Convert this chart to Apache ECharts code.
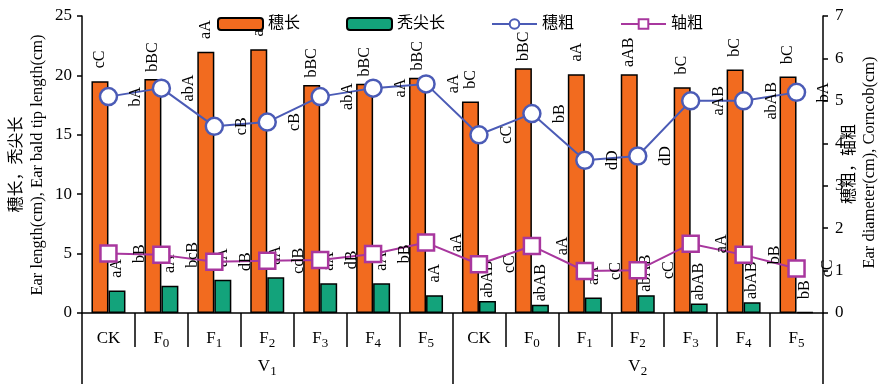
<!DOCTYPE html>
<html><head><meta charset="utf-8">
<script src="https://cdn.jsdelivr.net/npm/echarts@6/dist/echarts.min.js"></script>
<style>html,body{margin:0;padding:0;background:#fff}#c{width:886px;height:384px}</style>
</head><body><div id="c"></div>
<script>
var treatments = ['CK','F0','F1','F2','F3','F4','F5'];
var varieties = ['V1','V2'];
var earLength   = [19.5,19.7,22.0,22.2,19.2,19.3,19.8, 17.8,20.6,20.1,20.1,19.0,20.5,19.9];
var baldTip     = [1.9,2.3,2.8,3.0,2.5,2.5,1.5, 1.0,0.7,1.3,1.5,0.8,0.9,0.1];
var earDiameter = [5.1,5.3,4.4,4.5,5.1,5.3,5.4, 4.2,4.7,3.6,3.7,5.0,5.0,5.2];
var cobDiameter = [1.40,1.37,1.21,1.23,1.25,1.39,1.66, 1.15,1.58,0.99,1.01,1.63,1.37,1.05];
var earLengthSig = ['cC','bBC','aA','aA','bBC','bBC','bBC','bC','bBC','aA','aAB','bC','bC','bC'];
var baldTipSig   = ['aA','aA','aA','aA','aA','aA','aA','abAB','abAB','aA','abAB','abAB','abAB','bB'];
var earDiaSig    = ['bA','abA','cB','cB','abA','aA','aA','cC','bB','dD','dD','aAB','abAB','bA'];
var cobSig       = ['bB','bcB','dB','cdB','dB','bB','aA','cC','aA','cC','cC','aA','bB','cC'];
var seriesNames = ['穗长','秃尖长','穗粗','轴粗'];
var leftNameCn = '穗长，秃尖长', leftNameEn = 'Ear length(cm), Ear bald tip length(cm)';
var rightNameCn = '穗粗，轴粗', rightNameEn = 'Ear diameter(cm), Corncob(cm)';
var leftTicks = {min:0, max:25, interval:5};
var rightTicks = {min:0, max:7, interval:1};

var categories = [];
varieties.forEach(function(v){ treatments.forEach(function(t){ categories.push(v + '|' + t); }); });

var SERIF = '"Liberation Serif","Times New Roman",serif';
var CJK = '"Liberation Serif","Noto Sans CJK SC",serif';
function subFmt(s){
  var m = s.match(/^([A-Z]+)(\d)$/);
  return m ? '{a|' + m[1] + '}{s|' + m[2] + '}' : '{a|' + s + '}';
}
var richSub = {
  a:{fontFamily:SERIF,fontSize:17,color:'#000',lineHeight:22,verticalAlign:'bottom'},
  s:{fontFamily:SERIF,fontSize:13,color:'#000',lineHeight:22,verticalAlign:'bottom',padding:[0,0,-3,0]}
};
function sigLabel(arr, pos, dist){
  return {show:true, position:pos, distance:dist, rotate:90, align:'center', verticalAlign:'middle',
    fontFamily:SERIF, fontSize:16, color:'#000',
    formatter:function(p){ return arr[p.dataIndex]; }};
}
var chart = echarts.init(document.getElementById('c'), null, {renderer:'canvas'});
chart.setOption({
  animation:false,
  backgroundColor:'#fff',
  grid:{left:82,right:63,top:16,bottom:71},
  legend:{left:212,top:11,itemWidth:45,itemHeight:12,itemGap:46,
    textStyle:{fontFamily:CJK,fontSize:16,color:'#000'},
    data:seriesNames},
  xAxis:[{
    type:'category', data:categories, boundaryGap:true,
    axisLine:{lineStyle:{color:'#000',width:1.5}},
    axisTick:{show:true,alignWithLabel:false,length:34,lineStyle:{color:'#000',width:1.5}},
    axisLabel:{margin:12,interval:0,formatter:function(v){ return subFmt(v.split('|')[1]); },rich:richSub}
  },{
    type:'category', data:varieties, position:'bottom', offset:0, boundaryGap:true,
    axisLine:{show:false},
    axisTick:{show:true,alignWithLabel:false,length:71,lineStyle:{color:'#000',width:1.5}},
    axisLabel:{margin:40,interval:0,formatter:function(v){ return subFmt(v); },rich:richSub}
  }],
  yAxis:[{
    type:'value', min:leftTicks.min, max:leftTicks.max, interval:leftTicks.interval,
    splitLine:{show:false},
    axisLine:{show:true,lineStyle:{color:'#000',width:1.5}},
    axisTick:{show:true,length:5,lineStyle:{color:'#000',width:1.5}},
    axisLabel:{margin:10,fontFamily:SERIF,fontSize:17,color:'#000'}
  },{
    type:'value', min:rightTicks.min, max:rightTicks.max, interval:rightTicks.interval, position:'right',
    splitLine:{show:false},
    axisLine:{show:true,lineStyle:{color:'#000',width:1.5}},
    axisTick:{show:true,length:5,lineStyle:{color:'#000',width:1.5}},
    axisLabel:{margin:12,fontFamily:SERIF,fontSize:17,color:'#000'}
  }],
  graphic:[
    {type:'text', x:15, y:164.5, rotation:Math.PI/2, style:{text:leftNameCn, font:'16px "Noto Sans CJK SC"', fill:'#000', align:'center', verticalAlign:'middle'}},
    {type:'text', x:38, y:165, rotation:Math.PI/2, style:{text:leftNameEn, font:'16.5px "Liberation Serif"', fill:'#000', align:'center', verticalAlign:'middle'}},
    {type:'text', x:848, y:164, rotation:Math.PI/2, style:{text:rightNameCn, font:'16px "Noto Sans CJK SC"', fill:'#000', align:'center', verticalAlign:'middle'}},
    {type:'text', x:870, y:162.5, rotation:Math.PI/2, style:{text:rightNameEn, font:'16.5px "Liberation Serif"', fill:'#000', align:'center', verticalAlign:'middle'}}
  ],
  series:[{
    name:seriesNames[0], type:'bar', data:earLength, barWidth:17, barGap:'0%',
    itemStyle:{color:'#F26B1F',borderColor:'#000',borderWidth:1.5},
    label:sigLabel(earLengthSig,'top',22)
  },{
    name:seriesNames[1], type:'bar', data:baldTip, barWidth:17, barGap:'0%',
    itemStyle:{color:'#13A37B',borderColor:'#000',borderWidth:1.5},
    label:sigLabel(baldTipSig,'top',22)
  },{
    name:seriesNames[2], type:'line', yAxisIndex:1, data:earDiameter, symbol:'circle', symbolSize:17,
    lineStyle:{color:'#4B5BB6',width:2}, itemStyle:{color:'#fff',borderColor:'#4B5BB6',borderWidth:2.5},
    label:sigLabel(earDiaSig,'right',18), z:5
  },{
    name:seriesNames[3], type:'line', yAxisIndex:1, data:cobDiameter, symbol:'rect', symbolSize:16,
    lineStyle:{color:'#A8379E',width:2}, itemStyle:{color:'#fff',borderColor:'#A8379E',borderWidth:2.5},
    label:sigLabel(cobSig,'right',22), z:5
  }]
});
</script></body></html>
